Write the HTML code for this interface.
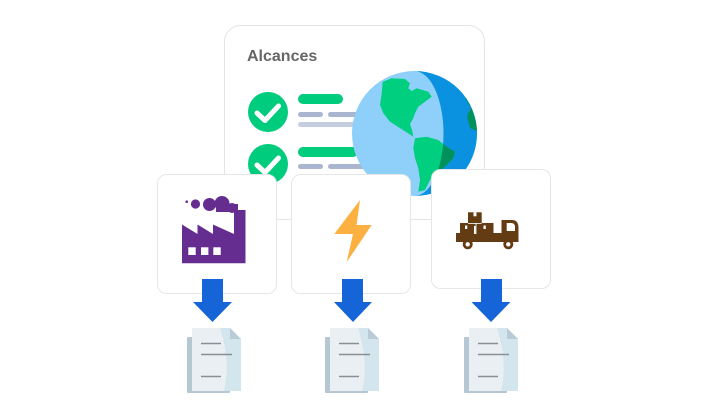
<!DOCTYPE html>
<html><head><meta charset="utf-8"><style>
html,body{margin:0;padding:0;background:#fff;}
svg{display:block;}
</style></head><body>
<svg width="721" height="420" viewBox="0 0 721 420" xmlns="http://www.w3.org/2000/svg">
<defs>
<clipPath id="globeClip"><circle cx="414.5" cy="133.5" r="62.5"/></clipPath>
<clipPath id="darkClip"><path d="M414.5,71 A29,62.5 0 0 1 414.5,196 L480,196 L480,71 Z"/></clipPath>
<g id="doc">
<rect x="187" y="337" width="43" height="56" rx="1" fill="#b6c7d4"/>
<path d="M192,328 L230,328 L241,339 L241,391 L192,391 Z" fill="#e9eff2"/>
<path d="M220,328 L230,328 L241,339 L241,391 L224,391 Q231,362 220,328 Z" fill="#d3e6ed"/>
<path d="M230,328 L241,339 L230,339 Z" fill="#b8cbd6"/>
<line x1="201" y1="343.5" x2="221" y2="343.5" stroke="#8a8f93" stroke-width="1.6"/>
<line x1="201" y1="354.5" x2="232" y2="354.5" stroke="#8a8f93" stroke-width="1.6"/>
<line x1="201" y1="376.5" x2="221" y2="376.5" stroke="#8a8f93" stroke-width="1.6"/>
</g>
</defs>

<!-- main card -->
<rect x="224.5" y="25.5" width="260" height="194" rx="16" fill="#fff" stroke="#e4e4e4" stroke-width="1"/>
<text x="247" y="61" font-family="Liberation Sans, sans-serif" font-size="16" font-weight="bold" fill="#666">Alcances</text>

<!-- check rows -->
<circle cx="268" cy="112" r="20" fill="#00cc7d"/>
<polyline points="257,113 265,120.5 278.5,106" fill="none" stroke="#fff" stroke-width="5" stroke-linecap="round" stroke-linejoin="round"/>
<rect x="298" y="94" width="45" height="10" rx="5" fill="#00cc7d"/>
<rect x="298" y="112" width="25" height="5" rx="2.5" fill="#aab6cf"/>
<rect x="328" y="112" width="40" height="5" rx="2.5" fill="#aab6cf"/>
<rect x="298" y="122" width="60" height="5" rx="2.5" fill="#c6cde0"/>

<circle cx="268" cy="164" r="20" fill="#00cc7d"/>
<polyline points="257,165 265,172.5 278.5,158" fill="none" stroke="#fff" stroke-width="5" stroke-linecap="round" stroke-linejoin="round"/>
<rect x="298" y="147" width="60" height="10" rx="5" fill="#00cc7d"/>
<rect x="298" y="164" width="25" height="5" rx="2.5" fill="#aab6cf"/>
<rect x="328" y="164" width="40" height="5" rx="2.5" fill="#aab6cf"/>

<!-- globe -->
<circle cx="414.5" cy="133.5" r="62.5" fill="#8fd0fa"/>
<path d="M414.5,71 A29,62.5 0 0 1 414.5,196 A62.5,62.5 0 0 0 414.5,71 Z" fill="#0a91e0"/>
<g clip-path="url(#globeClip)">
<path id="na" d="M382.7,81.7 L391.7,78.3 L405,79 L410,83.3 L408.3,88.3 L411.7,91 L416.7,88.3 L428.3,91.7 L431.7,96.7 L425,101.7 L418.3,106.7 L415,113.3 L413.3,118.3 L403.3,116.7 L398.3,120 L400,126.7 L406.7,131.7 L413.3,136.7 L390,121.7 L383.3,113.3 L380,105 L381.7,93.3 Z" fill="#00cf80"/>
<path d="M413.3,136.7 L406.7,131.7 L400,126.7 L398.3,120 L403.3,116.7 L413.3,118.3 L410,124 L412,130 Z" fill="#00cf80"/>
<path id="sa" d="M415,138.3 L426.7,136.7 L438.3,140 L446.7,146.7 L455,151.7 L453.3,158.3 L445,166.7 L435,173.3 L430,180 L425,190 L418.3,191.7 L420,180 L418.3,168.3 L415,158.3 L413.3,148.3 Z" fill="#00cf80"/>
<g clip-path="url(#darkClip)">
<path d="M415,138.3 L426.7,136.7 L438.3,140 L446.7,146.7 L455,151.7 L453.3,158.3 L445,166.7 L435,173.3 L430,180 L425,190 L418.3,191.7 L420,180 L418.3,168.3 L415,158.3 L413.3,148.3 Z" fill="#00915c"/>
</g>
<path d="M465,98 L471,108 L467,116 L470,128 L477,131 L478,96 Z" fill="#00915c"/>
</g>

<!-- bottom cards -->
<rect x="157.5" y="174.5" width="119" height="119" rx="9" fill="#fff" stroke="#e6e6e6" stroke-width="1"/>
<rect x="291.5" y="174.5" width="119" height="119" rx="9" fill="#fff" stroke="#e6e6e6" stroke-width="1"/>
<rect x="431.5" y="169.5" width="119" height="119" rx="9" fill="#fff" stroke="#e6e6e6" stroke-width="1"/>

<!-- factory -->
<g fill="#662d91">
<path d="M182,224.5 L197.5,234 L197.5,224.5 L213,234 L213,224.5 L234,234 L234,210 L245.5,210 L245.5,263.3 L182,263.3 Z"/>
<circle cx="186.7" cy="201.7" r="1.3"/>
<circle cx="195.5" cy="204" r="4.6"/>
<circle cx="209.5" cy="204.5" r="6.5"/>
<circle cx="222" cy="203.5" r="7.5"/>
<circle cx="232" cy="208" r="5"/>
<rect x="216" y="204" width="22" height="8"/>
</g>
<g fill="#fff">
<rect x="188.3" y="247.3" width="7.4" height="7.7"/>
<rect x="201" y="247.3" width="7.4" height="7.7"/>
<rect x="213.3" y="247.3" width="7.4" height="7.7"/>
</g>

<!-- bolt -->
<path d="M360,200 L334.3,234 L353,234 L346.7,262 L371.7,225 L356.5,225 Z" fill="#fbb040"/>

<!-- truck -->
<g fill="#643c14">
<rect x="456" y="233" width="48" height="9"/>
<path d="M501.5,220 L512,220 Q518.5,220 518.5,228 L518.5,242 L501.5,242 Z"/>
<rect x="468" y="212.3" width="13.7" height="11.5"/>
<rect x="460" y="223" width="33.5" height="11"/>
<circle cx="467.7" cy="244.3" r="5"/>
<circle cx="508.3" cy="244.3" r="5"/>
</g>
<g fill="#fff">
<path d="M506.7,223 L511,223 Q515,223 515,227 L515,231 L506.7,231 Z"/>
<circle cx="467.7" cy="244.3" r="2.2"/>
<circle cx="508.3" cy="244.3" r="2.2"/>
<rect x="473.5" y="212.3" width="3" height="4"/>
<rect x="465" y="225.5" width="2.3" height="3.5"/>
<rect x="474" y="226" width="1.5" height="8"/>
<rect x="483.5" y="225.5" width="2.3" height="3.5"/>
<rect x="474.8" y="223" width="1" height="1"/>
<rect x="460" y="234" width="0" height="0"/>
</g>
<g stroke="#fff" stroke-width="0.8">
<line x1="476" y1="223.5" x2="476" y2="234"/>
<line x1="468" y1="223.5" x2="481.7" y2="223.5"/>
</g>

<!-- arrows -->
<path d="M202,279 L223,279 L223,302 L232,302 L212.5,322 L193,302 L202,302 Z" fill="#1565d8"/>
<path d="M342,279 L363,279 L363,302 L372,302 L353,322 L334,302 L342,302 Z" fill="#1565d8"/>
<path d="M481,279 L502,279 L502,302 L510.5,302 L491,322 L471.5,302 L481,302 Z" fill="#1565d8"/>

<!-- documents -->
<use href="#doc"/>
<use href="#doc" transform="translate(138,0)"/>
<use href="#doc" transform="translate(277,0)"/>
</svg>
</body></html>
